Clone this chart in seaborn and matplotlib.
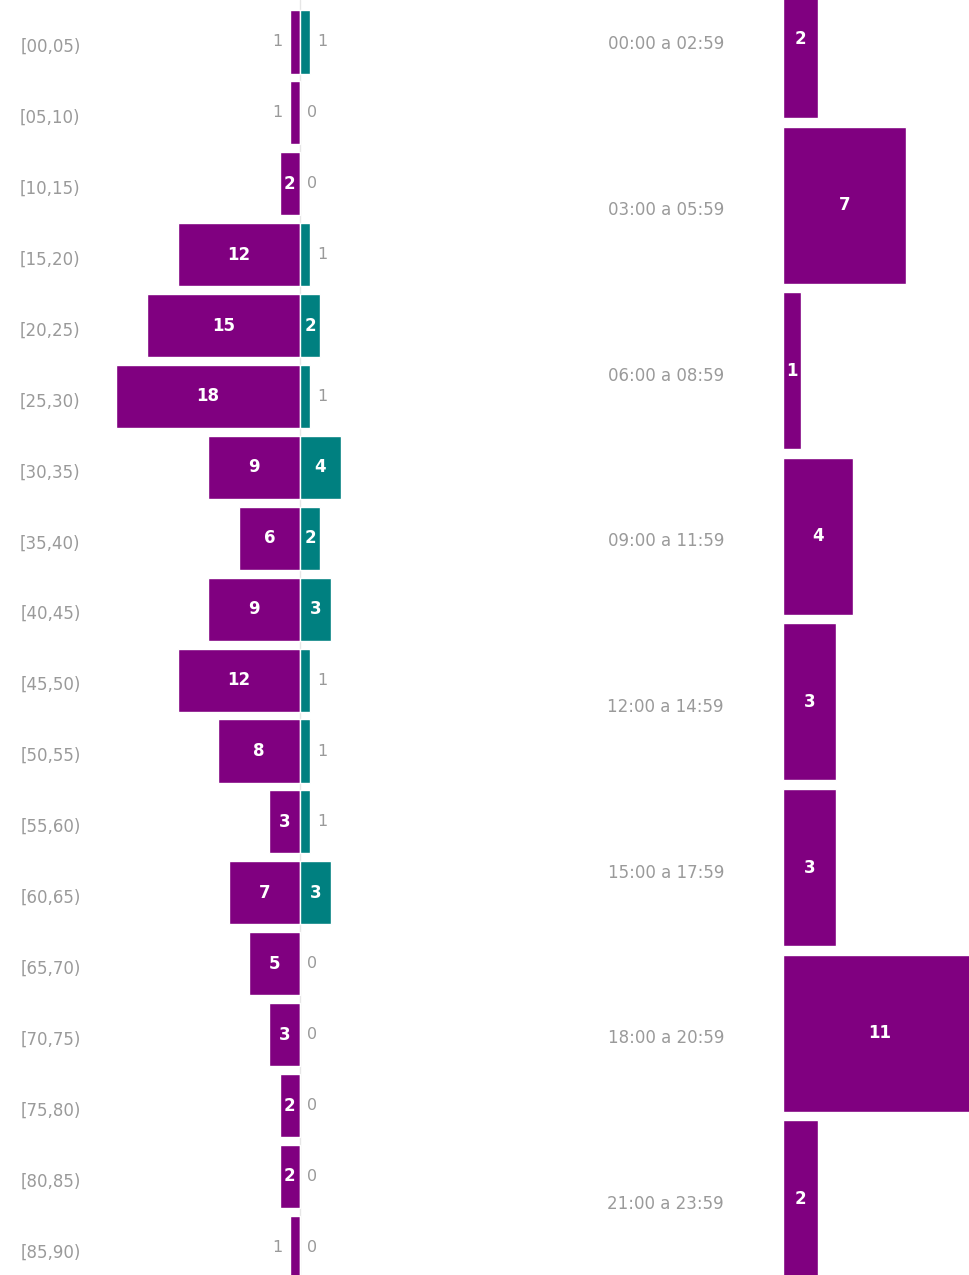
import numpy as np
import seaborn as sns
import matplotlib.pyplot as plt
import matplotlib.transforms as mtransforms

# data
age_bins = ["[00,05)", "[05,10)", "[10,15)", "[15,20)", "[20,25)", "[25,30)",
            "[30,35)", "[35,40)", "[40,45)", "[45,50)", "[50,55)", "[55,60)",
            "[60,65)", "[65,70)", "[70,75)", "[75,80)", "[80,85)", "[85,90)"]
purple_counts = [1, 1, 2, 12, 15, 18, 9, 6, 9, 12, 8, 3, 7, 5, 3, 2, 2, 1]
teal_counts = [1, 0, 0, 1, 2, 1, 4, 2, 3, 1, 1, 1, 3, 0, 0, 0, 0, 0]

hour_bins = ["00:00 a 02:59", "03:00 a 05:59", "06:00 a 08:59", "09:00 a 11:59",
             "12:00 a 14:59", "15:00 a 17:59", "18:00 a 20:59", "21:00 a 23:59"]
hour_counts = [2, 7, 1, 4, 3, 3, 11, 2]

PURPLE = "#800080"
TEAL = "#008080"
GRAY = "#9a9a9a"

sns.set_style("white")
plt.rcParams['font.family'] = ['DejaVu Sans']

W, H = 970, 1275
fig = plt.figure(figsize=(W / 100, H / 100), dpi=100)
shift_down = mtransforms.ScaledTranslation(0, -3 / 100, fig.dpi_scale_trans)

# ---- left: pyramid by age ----
ax1 = fig.add_axes([100 / W, 0, 460 / W, 1])
ax1.axvline(0, color="#e6e6e6", lw=1, zorder=0)
sns.barplot(x=-np.array(purple_counts), y=age_bins, orient="h", color=PURPLE,
            saturation=1, width=0.89, ax=ax1)
sns.barplot(x=np.array(teal_counts), y=age_bins, orient="h", color=TEAL,
            saturation=1, width=0.89, ax=ax1)

for i, (p, t) in enumerate(zip(purple_counts, teal_counts)):
    if p >= 2:
        ax1.text(-p / 2, i, str(p), color="white", fontsize=12,
                 fontweight="bold", ha="center", va="center")
    else:
        ax1.text(-p - 1.2, i, str(p), color=GRAY, fontsize=11.5,
                 ha="center", va="center")
    if t >= 2:
        ax1.text(t / 2, i, str(t), color="white", fontsize=12,
                 fontweight="bold", ha="center", va="center")
    else:
        ax1.text(t + 1.2, i, str(t), color=GRAY, fontsize=11.5,
                 ha="center", va="center")

ax1.set_xlim(-19.6, 25.5)
ax1.set_ylim(17.39, -0.592)
ax1.set_xticks([])
ax1.set_xlabel("")
ax1.tick_params(axis="y", length=0, pad=14, labelsize=12, labelcolor=GRAY)
for lab in ax1.get_yticklabels():
    lab.set_transform(lab.get_transform() + shift_down)
sns.despine(ax=ax1, left=True, bottom=True)

# ---- right: by hour ----
ax2 = fig.add_axes([783 / W, 0, 187 / W, 1])
sns.barplot(x=hour_counts, y=hour_bins, orient="h", color=PURPLE,
            saturation=1, width=0.948, ax=ax2)
for i, v in enumerate(hour_counts):
    ax2.text(v / 2, i, str(v), color="white", fontsize=12,
             fontweight="bold", ha="center", va="center")

ax2.set_xlim(0, 10.625)
ax2.set_ylim(7.46, -0.2385)
ax2.set_xticks([])
ax2.set_xlabel("")
ax2.tick_params(axis="y", length=0, pad=59 * 0.72, labelsize=12, labelcolor=GRAY)
for lab in ax2.get_yticklabels():
    lab.set_transform(lab.get_transform() + shift_down)
sns.despine(ax=ax2, left=True, bottom=True)

fig.savefig("out.png", dpi=100, facecolor="white")
